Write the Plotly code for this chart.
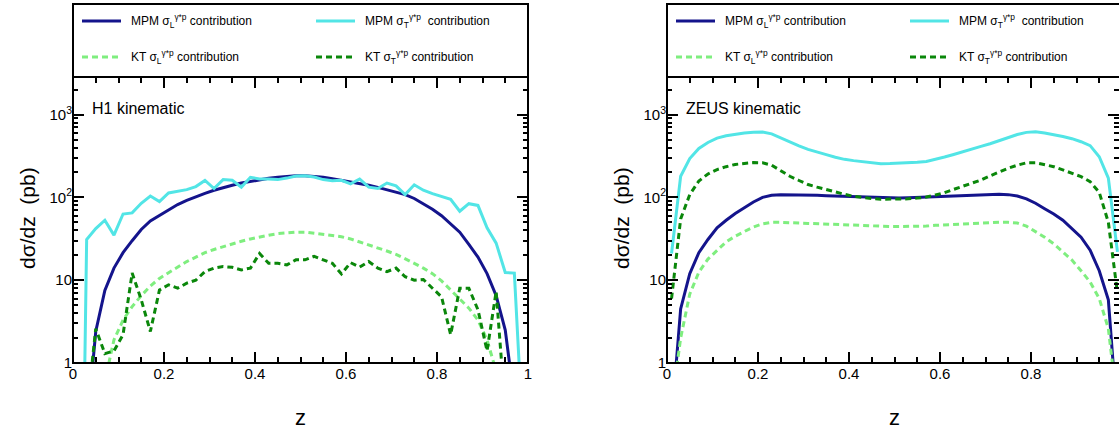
import plotly.graph_objects as go

W, H = 1119, 432

# bin centres in z
Z = [0.01, 0.03, 0.05, 0.07, 0.09, 0.11, 0.13, 0.15, 0.17, 0.19,
     0.21, 0.23, 0.25, 0.27, 0.29, 0.31, 0.33, 0.35, 0.37, 0.39,
     0.41, 0.43, 0.45, 0.47, 0.49, 0.51, 0.53, 0.55, 0.57, 0.59,
     0.61, 0.63, 0.65, 0.67, 0.69, 0.71, 0.73, 0.75, 0.77, 0.79,
     0.81, 0.83, 0.85, 0.87, 0.89, 0.91, 0.93, 0.95, 0.97, 0.99]

# ---- H1 kinematic (pb) ----
H1_MPM_L = [0.001, 0.15, 2.4, 7.5, 14, 21.5, 30, 41, 52, 61,
            70, 82, 92, 102, 112, 122, 132, 140, 149, 156,
            164, 170, 175, 179, 182, 182, 180, 175, 168, 161,
            155, 148, 140, 132, 124, 116, 108, 97, 84, 72,
            60, 48, 38, 27, 19, 12, 6.5, 2.5, 0.35, 0.001]
H1_MPM_T = [0.000001, 31, 42, 53, 35, 63, 65, 85, 104, 89,
            113, 118, 124, 135, 160, 128, 164, 161, 133, 175,
            167, 167, 164, 171, 181, 183, 176, 164, 159, 161,
            146, 167, 133, 128, 149, 138, 108, 142, 122, 111,
            103, 95, 68, 84, 80, 43, 28, 12.4, 12.2, 0.1]
H1_KT_L = [0.001, 0.005, 0.05, 0.6, 1.9, 3.3, 4.8, 6.5, 8.5, 10.5,
           12.3, 14.5, 16.8, 19, 21.5, 23.5, 25.5, 27.5, 29.5, 31.5,
           33.5, 35, 36.5, 37.5, 38, 38, 37, 36, 35, 33.5,
           31.5, 29, 27, 24.5, 22.5, 20.5, 18.3, 16, 14, 12,
           9.8, 7.6, 6, 4.6, 3.3, 1.9, 0.8, 0.1, 0.01, 0.001]
H1_KT_T = [0.001, 0.24, 2.6, 1.3, 1.4, 2.2, 12.2, 5.8, 2.4, 7.6,
           8.8, 8, 9.2, 10, 12.7, 14, 14.6, 14.3, 13.3, 14,
           21, 16, 16, 15.3, 17.6, 17.6, 19.4, 17.5, 16, 11.9,
           16.3, 14.4, 16.8, 14, 12.7, 14, 11, 10, 10.2, 8,
           6.3, 2.2, 8, 8, 4.4, 1.4, 7.3, 0.27, 0.001, 0.001]

# ---- ZEUS kinematic (pb) ----
ZEUS_MPM_L = [0.2, 4.5, 12, 21.5, 31, 43, 53, 64, 75, 88,
              100, 106, 108, 108, 108, 107, 106, 105, 104, 103,
              102, 101, 100, 99, 98, 98, 99, 100, 101, 102,
              103, 104, 105, 106, 107, 108, 109, 108, 104, 96,
              85, 73, 63, 53, 42, 33, 23, 13, 5.8, 0.2]
ZEUS_MPM_T = [21, 180, 295, 390, 460, 520, 555, 580, 600, 612,
              615, 585, 520, 465, 420, 380, 350, 328, 305, 288,
              278, 270, 262, 255, 256, 258, 262, 266, 272, 288,
              308, 330, 358, 385, 413, 445, 485, 530, 575, 610,
              620, 600, 575, 545, 512, 470, 422, 310, 171, 22]
ZEUS_KT_L = [0.3, 2.0, 6.8, 12.5, 18, 23, 29, 34, 39, 44,
             48, 50, 50, 50, 49, 48.5, 48, 47, 46.5, 46,
             45.5, 45, 45, 44.5, 44.5, 44.5, 44.5, 45, 45, 46,
             46.5, 47.5, 48, 49, 49.5, 50, 50, 50, 49, 45,
             39, 33, 27.5, 22, 17.5, 13, 9.5, 6, 2.6, 0.3]
ZEUS_KT_T = [6, 55, 108, 158, 192, 217, 235, 250, 257, 263,
             262, 245, 210, 180, 160, 143, 133, 124, 115, 109,
             103, 99, 97, 95, 95, 95, 96, 98, 101, 107,
             114, 125, 136, 146, 162, 182, 203, 225, 245, 262,
             262, 250, 235, 215, 195, 178, 155, 115, 50, 7]

X_TICKS = [0, 0.2, 0.4, 0.6, 0.8, 1]
X_TICK_LABELS = ['0', '0.2', '0.4', '0.6', '0.8', '1']
X_MINOR = [0.05, 0.1, 0.15, 0.25, 0.3, 0.35, 0.45, 0.5, 0.55,
           0.65, 0.7, 0.75, 0.85, 0.9, 0.95]
Y_TICKS = [1, 10, 100, 1000]
Y_TICK_LABELS = ['1', '10', '10<sup>2</sup>', '10<sup>3</sup>']
Y_MINOR = [2, 3, 4, 5, 6, 7, 8, 9, 20, 30, 40, 50, 60, 70, 80, 90,
           200, 300, 400, 500, 600, 700, 800, 900, 2000]

PANEL_TITLES = ['H1 kinematic', 'ZEUS kinematic']
LEGEND_TEXT = ['MPM σ<sub>L</sub><sup>γ*p</sup> contribution',
               'MPM σ<sub>T</sub><sup>γ*p</sup>\u00a0 contribution',
               'KT σ<sub>L</sub><sup>γ*p</sup> contribution',
               'KT σ<sub>T</sub><sup>γ*p</sup> contribution']

NAVY = '#14148c'
CYAN = '#52e5e6'
LGREEN = '#7fee7f'
DGREEN = '#0a870a'
COLORS = [NAVY, CYAN, LGREEN, DGREEN]
DASHES = ['solid', 'solid', '6px,4px', '6px,4px']
FONT = 'Liberation Sans, Arial, Helvetica, sans-serif'

# ---- layout geometry (pixels) ----
PLOT_TOP, PLOT_BOT = 77, 363
BOX_TOP = 4
PANEL_X = [(73, 528), (667, 1122)]   # pixel position of z=0 and z=1
UNIT = 455.0


def px(x):
    return x / W


def py(y):
    return 1 - y / H


fig = go.Figure()

panels = [
    ('x', 'y', [H1_MPM_L, H1_MPM_T, H1_KT_L, H1_KT_T]),
    ('x2', 'y2', [ZEUS_MPM_L, ZEUS_MPM_T, ZEUS_KT_L, ZEUS_KT_T]),
]
for xa, ya, series in panels:
    for vals, col, dash, name in zip(series, COLORS, DASHES, LEGEND_TEXT):
        fig.add_trace(go.Scatter(
            x=Z, y=vals, mode='lines', name=name,
            line=dict(color=col, width=3, dash=dash),
            xaxis=xa, yaxis=ya, showlegend=False, hoverinfo='skip'))

tickfont = dict(family=FONT, size=15, color='black')
xcommon = dict(tickvals=X_TICKS, ticktext=X_TICK_LABELS, ticks='inside',
               ticklen=11, tickwidth=1.5, tickcolor='black',
               minor=dict(tickvals=X_MINOR, ticks='inside', ticklen=6,
                          tickwidth=1.5, tickcolor='black'),
               mirror='ticks', showline=False, showgrid=False,
               zeroline=False, tickfont=tickfont, automargin=False)
ycommon = dict(type='log', range=[0, 3.454], tickvals=Y_TICKS,
               ticktext=Y_TICK_LABELS, ticks='inside', ticklen=11,
               tickwidth=1.5, tickcolor='black',
               minor=dict(tickvals=Y_MINOR, ticks='inside', ticklen=5,
                          tickwidth=1.5, tickcolor='black'),
               mirror='ticks', showline=False, showgrid=False,
               zeroline=False, tickfont=tickfont, automargin=False,
               domain=[py(PLOT_BOT), py(PLOT_TOP)])

x0L, x1L = PANEL_X[0]
x0R, x1R = PANEL_X[1]
fig.update_layout(
    width=W, height=H,
    margin=dict(l=0, r=0, t=0, b=0),
    paper_bgcolor='white', plot_bgcolor='white',
    xaxis=dict(domain=[px(x0L), px(x1L)], range=[0, 1], anchor='y', **xcommon),
    yaxis=dict(anchor='x', **ycommon),
    xaxis2=dict(domain=[px(x0R), 1.0], range=[0, (W - x0R) / UNIT],
                anchor='y2', **xcommon),
    yaxis2=dict(anchor='x2', **ycommon),
    showlegend=False,
)

shapes = []
annotations = []
for i, (x0, x1) in enumerate(PANEL_X):
    # plot frame
    shapes.append(dict(type='rect', xref='paper', yref='paper',
                       x0=px(x0), x1=px(x1), y0=py(PLOT_BOT), y1=py(PLOT_TOP),
                       line=dict(color='black', width=2), layer='above'))
    # legend box
    shapes.append(dict(type='rect', xref='paper', yref='paper',
                       x0=px(x0), x1=px(x1), y0=py(PLOT_TOP), y1=py(BOX_TOP),
                       line=dict(color='black', width=2), layer='above'))
    rows = [21, 21, 57, 57]
    cols = [0, 234, 0, 234]
    for k in range(4):
        lx = x0 + cols[k]
        shapes.append(dict(type='line', xref='paper', yref='paper',
                           x0=px(lx + 9), x1=px(lx + 48),
                           y0=py(rows[k]), y1=py(rows[k]),
                           line=dict(color=COLORS[k], width=3, dash=DASHES[k])))
        annotations.append(dict(xref='paper', yref='paper', x=px(lx + 56),
                                y=py(rows[k]), text=LEGEND_TEXT[k],
                                showarrow=False, xanchor='left',
                                yanchor='middle',
                                font=dict(family=FONT, size=12, color='black')))
    # panel label
    annotations.append(dict(xref='paper', yref='paper', x=px(x0 + 17),
                            y=py(108), text=PANEL_TITLES[i], showarrow=False,
                            xanchor='left', yanchor='middle',
                            font=dict(family=FONT, size=16, color='black')))
    # axis titles
    annotations.append(dict(xref='paper', yref='paper', x=px(x0 + 227.5),
                            y=py(417), text='z', showarrow=False,
                            xanchor='center', yanchor='middle',
                            font=dict(family=FONT, size=22, color='black')))
    annotations.append(dict(xref='paper', yref='paper', x=px(x0 - 46),
                            y=py(218), text='dσ/dz\u00a0 (pb)', showarrow=False,
                            textangle=-90, xanchor='center', yanchor='middle',
                            font=dict(family=FONT, size=21, color='black')))

fig.update_layout(shapes=shapes, annotations=annotations)
fig.write_html('out.html')
